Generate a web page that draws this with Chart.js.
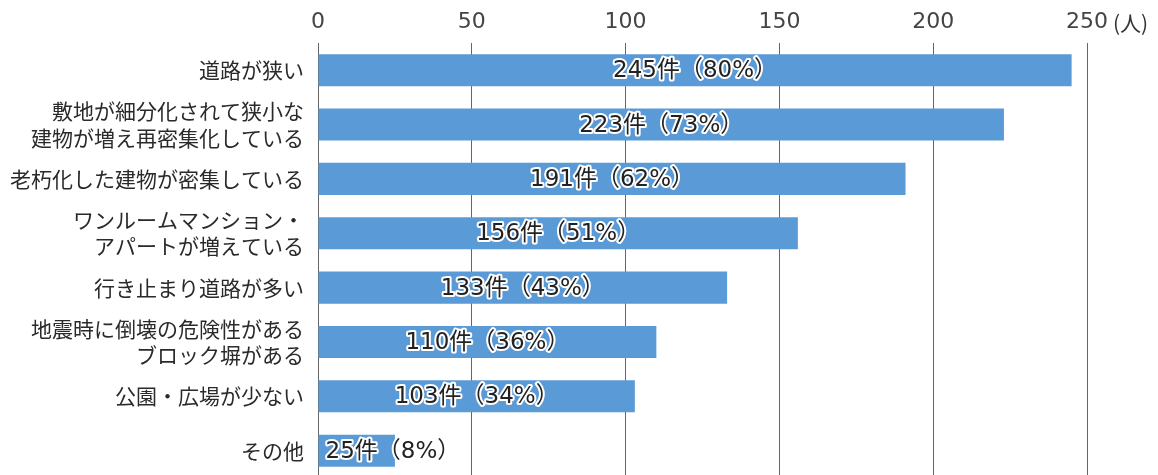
<!DOCTYPE html>
<html><head><meta charset="utf-8">
<script src="https://cdn.jsdelivr.net/npm/chart.js@4.4.1/dist/chart.umd.min.js"></script>
<style>
html,body{margin:0;padding:0;background:#fff;overflow:hidden;}
#wrap{position:relative;width:1158px;height:505px;}
</style></head><body>
<div id="wrap"><canvas id="c"></canvas></div>
<script>
const categories = [
  ['道路が狭い'],
  ['敷地が細分化されて狭小な','建物が増え再密集化している'],
  ['老朽化した建物が密集している'],
  ['ワンルームマンション・','アパートが増えている'],
  ['行き止まり道路が多い'],
  ['地震時に倒壊の危険性がある','ブロック塀がある'],
  ['公園・広場が少ない'],
  ['その他']
];
const counts = [245, 223, 191, 156, 133, 110, 103, 25];
const percents = [80, 73, 62, 51, 43, 36, 34, 8];
const xTicks = [0, 50, 100, 150, 200, 250];
const unitLabel = '(人)';

const FONT = '"Noto Sans CJK JP", "Noto Sans", sans-serif';
const NUMFONT = '"DejaVu Sans", "Noto Sans CJK JP", sans-serif';

const labelPlugin = {
  id: 'barLabels',
  afterDatasetsDraw(chart) {
    const ctx = chart.ctx;
    const meta = chart.getDatasetMeta(0);
    ctx.save();
    ctx.font = '23px ' + NUMFONT;
    ctx.textBaseline = 'middle';
    ctx.lineJoin = 'round';
    meta.data.forEach((bar, i) => {
      const txt = counts[i] + '件（' + percents[i] + '%）';
      const w = ctx.measureText(txt).width;
      const left = Math.min(bar.base, bar.x), right = Math.max(bar.base, bar.x);
      let x, align;
      if (w + 16 > right - left) { x = left + 7; align = 'left'; }
      else { x = (left + right) / 2; align = 'center'; }
      ctx.textAlign = align;
      ctx.strokeStyle = '#ffffff';
      ctx.lineWidth = 4;
      ctx.strokeText(txt, x, bar.y + 1);
      ctx.fillStyle = '#222222';
      ctx.fillText(txt, x, bar.y + 1);
    });
    const xs = chart.scales.x;
    const px = xs.getPixelForValue(xTicks[xTicks.length - 1]);
    ctx.font = '21px ' + FONT;
    ctx.textAlign = 'left';
    ctx.fillStyle = '#333333';
    ctx.fillText(unitLabel, px + 26, 23);
    ctx.restore();
  }
};

new Chart(document.getElementById('c'), {
  type: 'bar',
  data: {
    labels: categories,
    datasets: [{
      data: counts,
      backgroundColor: '#5a9ad6',
      borderWidth: 0,
      categoryPercentage: 1.0,
      barPercentage: 0.59
    }]
  },
  options: {
    indexAxis: 'y',
    responsive: true,
    maintainAspectRatio: false,
    animation: false,
    devicePixelRatio: 1,
    layout: { padding: { left: 0, right: 71, top: 0, bottom: 2 } },
    plugins: { legend: { display: false }, tooltip: { enabled: false } },
    scales: {
      x: {
        position: 'top',
        min: 0, max: 250,
        afterBuildTicks(scale) { scale.ticks = xTicks.map(v => ({ value: v })); },
        afterFit(scale) { scale.height = 43; },
        grid: { color: '#666666', lineWidth: 1, drawTicks: false },
        border: { display: false },
        ticks: {
          padding: 8,
          color: '#444444',
          font: { family: NUMFONT, size: 22 },
          maxRotation: 0
        }
      },
      y: {
        afterFit(scale) { scale.width = 318; },
        grid: { display: false, drawTicks: false },
        border: { display: false },
        ticks: {
          padding: 14,
          color: '#2a2a2a',
          font: { family: FONT, size: 21, lineHeight: 1.25 },
          autoSkip: false
        }
      }
    }
  },
  plugins: [labelPlugin]
});
</script>
</body></html>
